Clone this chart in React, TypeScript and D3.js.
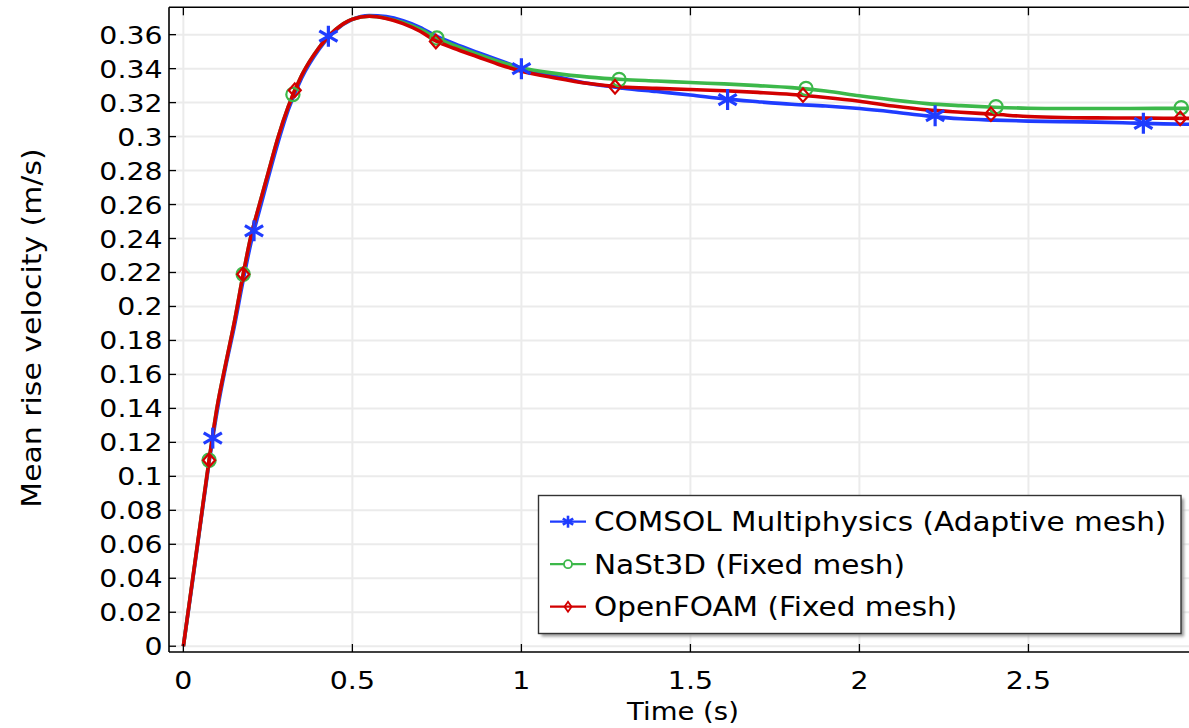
import React from 'react';
import * as d3 from 'd3';

const W = 1189;
const H = 728;

// Shared time samples (s)
const times = [0, 0.025, 0.05, 0.076, 0.1, 0.125, 0.15, 0.177, 0.2, 0.225, 0.25, 0.28, 0.31, 0.35, 0.4, 0.45, 0.5, 0.55, 0.6, 0.65, 0.7, 0.75, 0.8, 0.87, 0.94, 1.0, 1.1, 1.2, 1.3, 1.4, 1.5, 1.6, 1.7, 1.8, 1.9, 2.0, 2.1, 2.2, 2.3, 2.4, 2.5, 2.6, 2.7, 2.8, 2.9, 3.0];

// Mean rise velocity (m/s)
const comsolV = [0, 0.035, 0.071, 0.108, 0.1385, 0.1645, 0.1875, 0.2155, 0.2375, 0.2565, 0.275, 0.2965, 0.3155, 0.3345, 0.351, 0.3625, 0.369, 0.3713, 0.3706, 0.3682, 0.3643, 0.359, 0.3548, 0.3495, 0.3445, 0.3402, 0.3355, 0.3312, 0.3285, 0.3265, 0.3245, 0.3222, 0.3205, 0.319, 0.318, 0.3165, 0.3145, 0.3122, 0.3105, 0.3097, 0.3091, 0.3088, 0.3085, 0.308, 0.3075, 0.3072];
const nast3dV = [0, 0.036, 0.072, 0.1095, 0.141, 0.166, 0.19, 0.219, 0.2415, 0.26, 0.278, 0.2995, 0.3175, 0.336, 0.352, 0.3629, 0.3691, 0.3708, 0.3697, 0.3672, 0.3632, 0.358, 0.3538, 0.3485, 0.3438, 0.3405, 0.3372, 0.335, 0.3336, 0.3327, 0.3318, 0.331, 0.33, 0.3288, 0.3268, 0.324, 0.3215, 0.3194, 0.3182, 0.3173, 0.3167, 0.3165, 0.3165, 0.3165, 0.3166, 0.3166];
const openfoamV = [0, 0.036, 0.072, 0.1095, 0.141, 0.166, 0.19, 0.219, 0.2415, 0.26, 0.278, 0.2995, 0.3175, 0.336, 0.352, 0.3629, 0.3691, 0.3708, 0.3695, 0.3665, 0.362, 0.356, 0.352, 0.347, 0.342, 0.3385, 0.3345, 0.3312, 0.3292, 0.3284, 0.3277, 0.327, 0.326, 0.3248, 0.323, 0.3208, 0.318, 0.3157, 0.3143, 0.3131, 0.3118, 0.3112, 0.311, 0.3109, 0.3108, 0.3107];

// Marker positions
const comsolMarkT = [0.087, 0.209, 0.429, 1.0, 1.61, 2.224, 2.84];
const comsolMarkV = [0.1225, 0.2445, 0.3591, 0.34, 0.3218, 0.3123, 0.3078];
const nast3dMarkT = [0.076, 0.177, 0.324, 0.75, 1.289, 1.842, 2.404, 2.952];
const nast3dMarkV = [0.1095, 0.219, 0.3248, 0.358, 0.3336, 0.3283, 0.3176, 0.317];
const openfoamMarkT = [0.076, 0.177, 0.3296, 0.747, 1.277, 1.833, 2.389, 2.949];
const openfoamMarkV = [0.1095, 0.219, 0.3273, 0.356, 0.3293, 0.3244, 0.3132, 0.3107];

const xTicks = [0, 0.5, 1, 1.5, 2, 2.5];
const xTickLabels = ['0', '0.5', '1', '1.5', '2', '2.5'];
const yTicks = [0, 0.02, 0.04, 0.06, 0.08, 0.1, 0.12, 0.14, 0.16, 0.18, 0.2, 0.22, 0.24, 0.26, 0.28, 0.3, 0.32, 0.34, 0.36];
const yTickLabels = ['0', '0.02', '0.04', '0.06', '0.08', '0.1', '0.12', '0.14', '0.16', '0.18', '0.2', '0.22', '0.24', '0.26', '0.28', '0.3', '0.32', '0.34', '0.36'];

const seriesNames = ['COMSOL Multiphysics (Adaptive mesh)', 'NaSt3D (Fixed mesh)', 'OpenFOAM (Fixed mesh)'];
const seriesColors = ['#1f3cff', '#3cb84a', '#d20000'];

const FONT = 'DejaVu Sans, Verdana, sans-serif';
const SX = 1.135; // horizontal widening of the reference typeface

const plot = { left: 169, top: 7.3, right: 1189, bottom: 652 };

function Asterisk({ x, y, r, color, sw }: { x: number; y: number; r: number; color: string; sw: number }) {
  const a = Math.PI / 6;
  const dx = r * Math.cos(a);
  const dy = r * Math.sin(a);
  return (
    <g stroke={color} strokeWidth={sw} strokeLinecap="butt">
      <line x1={x} y1={y - r} x2={x} y2={y + r} />
      <line x1={x - dx} y1={y - dy} x2={x + dx} y2={y + dy} />
      <line x1={x - dx} y1={y + dy} x2={x + dx} y2={y - dy} />
    </g>
  );
}

function Diamond({ x, y, rx, ry, color, sw }: { x: number; y: number; rx: number; ry: number; color: string; sw: number }) {
  return (
    <path
      d={`M${x},${y - ry}L${x + rx},${y}L${x},${y + ry}L${x - rx},${y}Z`}
      fill="none"
      stroke={color}
      strokeWidth={sw}
    />
  );
}

export default function App() {
  const x = d3.scaleLinear().domain([-0.0425, 2.975]).range([plot.left, plot.right]);
  const y = d3.scaleLinear().domain([-0.0034, 0.3761]).range([plot.bottom, plot.top]);

  const line = d3
    .line<[number, number]>()
    .x((d) => x(d[0]))
    .y((d) => y(d[1]))
    .curve(d3.curveMonotoneX);

  const series = [comsolV, nast3dV, openfoamV].map((vals) => times.map((t, i) => [t, vals[i]] as [number, number]));

  const legend = { x: 538.5, y: 495.5, w: 642.5, h: 138 };
  const rowY = [521.7, 564.2, 606.7];

  return (
    <svg
      width={W}
      height={H}
      style={{ position: 'absolute', left: 0, top: 0, display: 'block', background: '#fff' }}
      fontFamily={FONT}
    >
      <defs>
        <clipPath id="plotclip">
          <rect x={plot.left} y={plot.top} width={plot.right - plot.left} height={plot.bottom - plot.top} />
        </clipPath>
        <filter id="shadow" x="-5%" y="-5%" width="115%" height="120%">
          <feGaussianBlur stdDeviation="1.5" />
        </filter>
      </defs>
      <rect x={0} y={0} width={W} height={H} fill="#fff" />

      {/* grid */}
      <g stroke="#ebebeb" strokeWidth={2}>
        {xTicks.map((t) => (
          <line key={'gx' + t} x1={x(t)} x2={x(t)} y1={plot.top} y2={plot.bottom} />
        ))}
        {yTicks.map((t) => (
          <line key={'gy' + t} x1={plot.left} x2={plot.right} y1={y(t)} y2={y(t)} />
        ))}
      </g>

      {/* curves */}
      <g clipPath="url(#plotclip)" fill="none">
        {series.map((s, i) => (
          <path key={'s' + i} d={line(s) || ''} stroke={seriesColors[i]} strokeWidth={3.6} strokeLinejoin="round" />
        ))}
        {comsolMarkT.map((t, i) => (
          <Asterisk key={'ma' + i} x={x(t)} y={y(comsolMarkV[i])} r={10.5} color={seriesColors[0]} sw={3.2} />
        ))}
        {nast3dMarkT.map((t, i) => (
          <circle key={'mc' + i} cx={x(t)} cy={y(nast3dMarkV[i])} r={6.6} fill="none" stroke={seriesColors[1]} strokeWidth={2.2} />
        ))}
        {openfoamMarkT.map((t, i) => (
          <Diamond key={'md' + i} x={x(t)} y={y(openfoamMarkV[i])} rx={6} ry={6.8} color={seriesColors[2]} sw={2.2} />
        ))}
      </g>

      {/* axes frame */}
      <g stroke="#000" strokeWidth={1.6} fill="none">
        <line x1={plot.left} x2={plot.left} y1={plot.top} y2={plot.bottom} />
        <line x1={plot.left} x2={plot.right} y1={plot.bottom} y2={plot.bottom} />
        <line x1={plot.left} x2={plot.right} y1={plot.top} y2={plot.top} />
      </g>
      <g stroke="#000" strokeWidth={1.3}>
        {xTicks.map((t) => (
          <g key={'tx' + t}>
            <line x1={x(t)} x2={x(t)} y1={plot.bottom} y2={plot.bottom - 8} />
            <line x1={x(t)} x2={x(t)} y1={plot.top} y2={plot.top + 8} />
          </g>
        ))}
        {yTicks.map((t) => (
          <line key={'ty' + t} x1={plot.left} x2={plot.left + 7} y1={y(t)} y2={y(t)} />
        ))}
      </g>

      {/* tick labels */}
      <g fontSize={25} fill="#000">
        {yTicks.map((t, i) => (
          <text key={'ly' + t} transform={`translate(162.5,${y(t)}) scale(${SX},1)`} dy="0.36em" textAnchor="end">
            {yTickLabels[i]}
          </text>
        ))}
        {xTicks.map((t, i) => (
          <text key={'lx' + t} transform={`translate(${x(t)},689) scale(${SX},1)`} textAnchor="middle">
            {xTickLabels[i]}
          </text>
        ))}
      </g>

      {/* axis titles */}
      <text transform={`translate(683,720) scale(1.1,1)`} fontSize={25} textAnchor="middle" fill="#000">
        Time (s)
      </text>
      <text transform="translate(41,328) rotate(-90) scale(1.15,1)" fontSize={26} textAnchor="middle" fill="#000">
        Mean rise velocity (m/s)
      </text>

      {/* legend */}
      <rect x={legend.x + 3} y={legend.y + 3} width={legend.w} height={legend.h} fill="#999" filter="url(#shadow)" />
      <rect x={legend.x} y={legend.y} width={legend.w} height={legend.h} fill="#fff" stroke="#333" strokeWidth={1.4} />
      {seriesNames.map((name, i) => {
        const ly = rowY[i];
        const cx = 568;
        return (
          <g key={'lg' + i}>
            <line x1={550} x2={586} y1={ly} y2={ly} stroke={seriesColors[i]} strokeWidth={2.2} />
            {i === 0 && <Asterisk x={cx} y={ly} r={6} color={seriesColors[0]} sw={2.6} />}
            {i === 1 && <circle cx={cx} cy={ly} r={4} fill="#fff" stroke={seriesColors[1]} strokeWidth={1.8} />}
            {i === 2 && <Diamond x={cx} y={ly} rx={3.5} ry={5} color={seriesColors[2]} sw={1.8} />}
            <text transform={`translate(594,${ly}) scale(${SX},1)`} dy="0.36em" fontSize={26} fill="#000">
              {name}
            </text>
          </g>
        );
      })}
    </svg>
  );
}
